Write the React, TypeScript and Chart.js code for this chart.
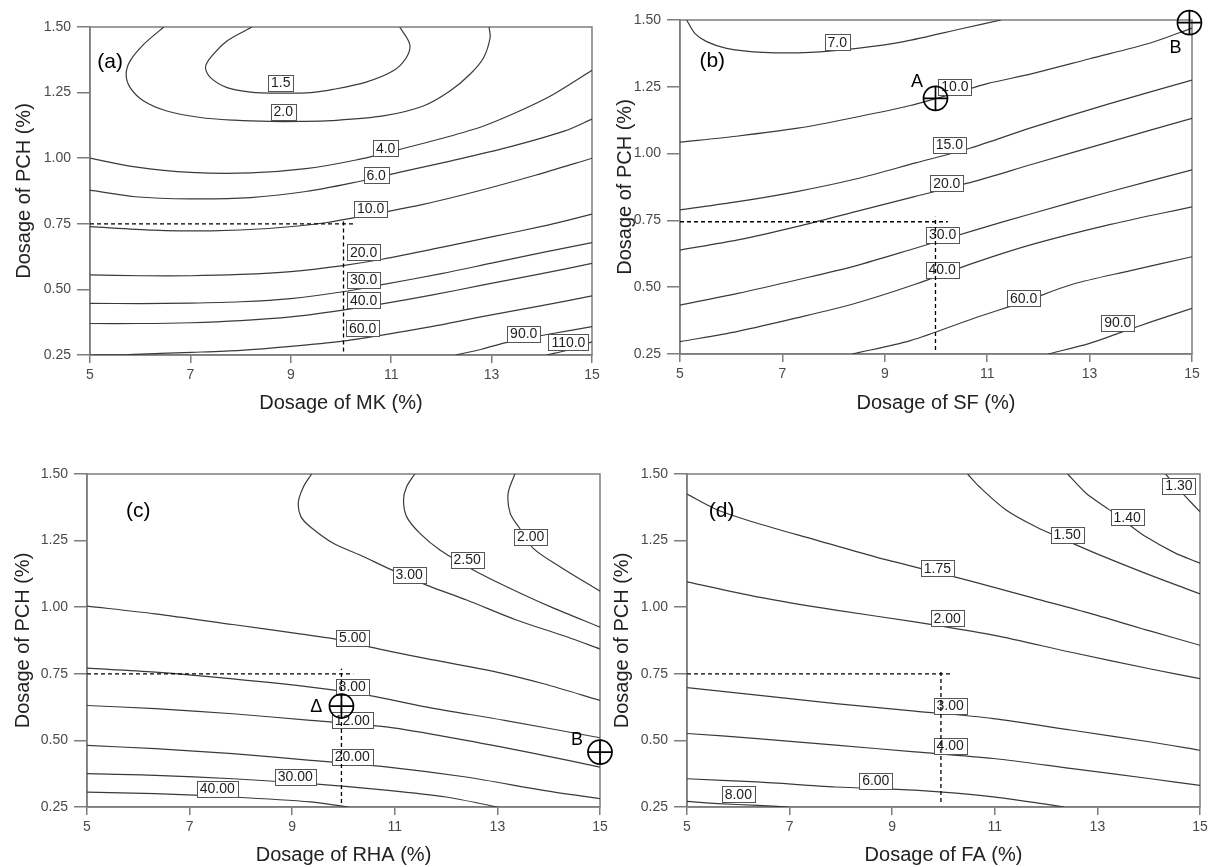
import React, { useEffect, useRef } from "react";
import { Chart, registerables } from "chart.js";

Chart.register(...registerables);

type Pt = [number, number];
type Lbl = [string, number, number];

const FONT = "'Liberation Sans', Arial, Helvetica, sans-serif";

// ---------- shared axes ----------
const X_TICKS = [5, 7, 9, 11, 13, 15];
const Y_TICKS = [0.25, 0.5, 0.75, 1.0, 1.25, 1.5];
const Y_TITLE = "Dosage of PCH (%)";

// ---------- Panel (a): MK ----------
const A_1_5: Pt[] = [[8.23, 1.5], [7.73, 1.447], [7.4, 1.383], [7.3, 1.345], [7.4, 1.307], [7.73, 1.269], [8.2, 1.252], [8.8, 1.248], [9.4, 1.25], [9.84, 1.262], [10.5, 1.29], [11.04, 1.333], [11.3, 1.383], [11.37, 1.434], [11.17, 1.5]];
const A_2_0: Pt[] = [[6.47, 1.5], [6.07, 1.434], [5.8, 1.371], [5.72, 1.32], [5.8, 1.269], [6.07, 1.218], [6.53, 1.18], [7.2, 1.155], [7.87, 1.145], [8.6, 1.14], [9.2, 1.14], [9.8, 1.143], [10.84, 1.161], [11.64, 1.199], [12.17, 1.256], [12.57, 1.32], [12.84, 1.383], [12.97, 1.459], [12.95, 1.5]];
const A_4_0: Pt[] = [[5, 1.0], [5.9, 0.967], [7.0, 0.946], [8.2, 0.944], [9.3, 0.96], [10.3, 0.993], [11.2, 1.035], [12.0, 1.075], [12.8, 1.12], [13.5, 1.175], [14.2, 1.24], [15, 1.335]];
const A_6_0: Pt[] = [[5, 0.878], [5.9, 0.853], [7.0, 0.845], [8.2, 0.85], [9.3, 0.873], [10.2, 0.905], [11.2, 0.948], [12.2, 0.99], [13.3, 1.04], [14.46, 1.104], [15, 1.149]];
const A_10_0: Pt[] = [[5, 0.739], [6.27, 0.726], [7.41, 0.723], [8.55, 0.732], [9.69, 0.754], [10.59, 0.785], [11.59, 0.822], [12.73, 0.875], [13.87, 0.935], [15, 1.0]];
const A_20_0: Pt[] = [[5, 0.555], [6, 0.552], [7, 0.552], [8, 0.557], [9, 0.568], [10, 0.59], [10.82, 0.615], [12, 0.66], [13, 0.7], [14, 0.74], [14.53, 0.764], [15, 0.787]];
const A_30_0: Pt[] = [[5, 0.447], [6, 0.446], [7, 0.448], [8, 0.453], [9, 0.465], [10, 0.49], [10.82, 0.518], [12, 0.56], [13, 0.6], [14, 0.64], [15, 0.678]];
const A_40_0: Pt[] = [[5, 0.37], [6, 0.37], [7, 0.373], [8, 0.381], [9, 0.395], [10, 0.42], [10.82, 0.445], [11.8, 0.478], [12.81, 0.516], [14, 0.56], [15, 0.599]];
const A_60_0: Pt[] = [[5, 0.25], [5.7, 0.251], [6.4, 0.256], [7.03, 0.26], [8, 0.268], [9, 0.283], [10, 0.302], [10.82, 0.326], [11.8, 0.358], [12.81, 0.396], [14, 0.438], [15, 0.475]];
const A_90_0: Pt[] = [[12.28, 0.25], [12.8, 0.272], [13.34, 0.3], [14.1, 0.328], [15, 0.358]];
const A_110_0: Pt[] = [[14.1, 0.25], [14.55, 0.27], [15, 0.3]];
const A_LABELS: Lbl[] = [["1.5", 8.8, 1.287], ["2.0", 8.85, 1.176], ["4.0", 10.89, 1.037], ["6.0", 10.7, 0.935], ["10.0", 10.59, 0.808], ["20.0", 10.45, 0.641], ["30.0", 10.45, 0.536], ["40.0", 10.45, 0.459], ["60.0", 10.43, 0.352], ["90.0", 13.64, 0.331], ["110.0", 14.53, 0.298]];
const A_GUIDE_H: Pt[] = [[5, 0.75], [10.26, 0.75]];
const A_GUIDE_V: Pt[] = [[10.05, 0.263], [10.05, 0.764]];
const A_MARKERS: Pt[] = [];
const A_MARKER_TEXT: Lbl[] = [];
const A_TAG: Lbl = ["(a)", 5.4, 1.365];

// ---------- Panel (b): SF ----------
const B_7_0: Pt[] = [[5.13, 1.5], [5.29, 1.45], [5.52, 1.419], [5.91, 1.394], [6.63, 1.379], [7.54, 1.379], [8.46, 1.394], [9.37, 1.419], [10.54, 1.469], [11.27, 1.5]];
const B_10_0: Pt[] = [[5, 1.043], [6.1, 1.065], [7.3, 1.095], [8.4, 1.135], [9.5, 1.18], [10.4, 1.228], [11.0, 1.262], [11.9, 1.3], [13.0, 1.355], [14.2, 1.415], [15, 1.47]];
const B_15_0: Pt[] = [[5, 0.789], [6.13, 0.82], [7.28, 0.858], [8.43, 0.905], [9.6, 0.965], [10.66, 1.02], [11.88, 1.098], [13.41, 1.188], [15, 1.275]];
const B_20_0: Pt[] = [[5, 0.639], [6.13, 0.677], [7.28, 0.727], [8.43, 0.783], [9.58, 0.839], [10.73, 0.895], [11.88, 0.96], [13.41, 1.045], [15, 1.132]];
const B_30_0: Pt[] = [[5, 0.433], [6.13, 0.477], [7.28, 0.527], [8.43, 0.58], [9.58, 0.645], [10.73, 0.712], [11.88, 0.776], [13.41, 0.858], [15, 0.939]];
const B_40_0: Pt[] = [[5, 0.296], [6.13, 0.335], [7.28, 0.385], [8.43, 0.44], [9.58, 0.51], [10.73, 0.59], [11.88, 0.66], [13.41, 0.735], [15, 0.801]];
const B_60_0: Pt[] = [[8.36, 0.25], [9.5, 0.3], [10.73, 0.383], [11.71, 0.445], [12.65, 0.51], [13.8, 0.562], [15, 0.614]];
const B_90_0: Pt[] = [[12.19, 0.25], [13.0, 0.29], [13.6, 0.33], [14.2, 0.37], [15, 0.421]];
const B_LABELS: Lbl[] = [["7.0", 8.07, 1.417], ["10.0", 10.37, 1.25], ["15.0", 10.26, 1.032], ["20.0", 10.21, 0.889], ["30.0", 10.13, 0.695], ["40.0", 10.12, 0.564], ["60.0", 11.71, 0.458], ["90.0", 13.55, 0.367]];
const B_GUIDE_H: Pt[] = [[5, 0.745], [10.23, 0.745]];
const B_GUIDE_V: Pt[] = [[9.99, 0.265], [9.99, 0.764]];
const B_MARKERS: Pt[] = [[9.99, 1.207], [14.95, 1.49]];
const B_MARKER_TEXT: Lbl[] = [["A", 9.63, 1.269], ["B", 14.68, 1.394]];
const B_TAG: Lbl = ["(b)", 5.63, 1.347];

// ---------- Panel (c): RHA ----------
const C_2_00: Pt[] = [[13.34, 1.5], [13.21, 1.428], [13.25, 1.352], [13.42, 1.3], [13.7, 1.221], [14.22, 1.152], [15, 1.06]];
const C_2_50: Pt[] = [[11.39, 1.5], [11.23, 1.452], [11.17, 1.402], [11.23, 1.34], [11.49, 1.277], [11.88, 1.215], [12.53, 1.14], [13.18, 1.077], [14.03, 1.002], [15, 0.925]];
const C_3_00: Pt[] = [[9.38, 1.5], [9.22, 1.452], [9.12, 1.394], [9.17, 1.34], [9.35, 1.302], [9.8, 1.24], [10.32, 1.196], [10.94, 1.14], [11.62, 1.083], [12.4, 1.027], [13.37, 0.952], [14.35, 0.889], [15, 0.843]];
const C_5_00: Pt[] = [[5, 1.004], [6.33, 0.975], [7.84, 0.935], [9.15, 0.9], [10.17, 0.87], [10.53, 0.85], [11.75, 0.802], [12.9, 0.76], [13.9, 0.7125], [15, 0.65]];
const C_8_00: Pt[] = [[5, 0.771], [6.33, 0.756], [7.84, 0.731], [9.36, 0.7], [10.49, 0.669], [11.63, 0.625], [13.14, 0.575], [15, 0.51]];
const C_12_00: Pt[] = [[5, 0.631], [6.33, 0.619], [7.84, 0.6], [9.36, 0.575], [10.87, 0.55], [12.39, 0.5], [13.9, 0.444], [15, 0.4]];
const C_20_00: Pt[] = [[5, 0.481], [6.33, 0.469], [7.84, 0.45], [9.36, 0.425], [10.87, 0.4], [12.39, 0.3625], [13.9, 0.3125], [15, 0.281]];
const C_30_00: Pt[] = [[5, 0.375], [6.33, 0.369], [7.84, 0.356], [9.36, 0.3375], [10.87, 0.3125], [12.0, 0.2875], [13.0, 0.25]];
const C_40_00: Pt[] = [[5, 0.306], [6.33, 0.3], [7.84, 0.2875], [9.36, 0.269], [10.1, 0.25]];
const C_LABELS: Lbl[] = [["2.00", 13.65, 1.265], ["2.50", 12.41, 1.177], ["3.00", 11.28, 1.121], ["5.00", 10.18, 0.885], ["8.00", 10.17, 0.7], ["12.00", 10.17, 0.575], ["20.00", 10.17, 0.4375], ["30.00", 9.06, 0.3625], ["40.00", 7.54, 0.319]];
const C_GUIDE_H: Pt[] = [[5, 0.75], [10.19, 0.75]];
const C_GUIDE_V: Pt[] = [[9.96, 0.265], [9.96, 0.769]];
const C_MARKERS: Pt[] = [[9.96, 0.629], [15, 0.456]];
const C_MARKER_TEXT: Lbl[] = [["Δ", 9.47, 0.625], ["B", 14.55, 0.5]];
const C_TAG: Lbl = ["(c)", 6.0, 1.36];

// ---------- Panel (d): FA ----------
const D_1_30: Pt[] = [[14.33, 1.5], [14.5, 1.46], [14.72, 1.415], [15, 1.358]];
const D_1_40: Pt[] = [[12.42, 1.5], [12.78, 1.428], [13.2, 1.37], [13.55, 1.32], [13.94, 1.265], [14.5, 1.205], [15, 1.165]];
const D_1_50: Pt[] = [[10.47, 1.5], [10.7, 1.452], [11.22, 1.365], [11.8, 1.302], [12.4, 1.25], [12.97, 1.202], [13.94, 1.127], [14.79, 1.065], [15, 1.05]];
const D_1_75: Pt[] = [[5, 1.425], [5.6, 1.365], [6.37, 1.315], [7.52, 1.252], [8.67, 1.189], [9.88, 1.13], [10.59, 1.095], [11.74, 1.035], [12.89, 0.975], [14.04, 0.91], [15, 0.857]];
const D_2_00: Pt[] = [[5, 1.095], [6.37, 1.039], [7.9, 0.989], [9.44, 0.945], [10.97, 0.895], [12.51, 0.83], [14.04, 0.768], [15, 0.732]];
const D_3_00: Pt[] = [[5, 0.698], [6.37, 0.67], [7.9, 0.638], [9.44, 0.61], [10.97, 0.582], [12.51, 0.538], [14.04, 0.494], [15, 0.463]];
const D_4_00: Pt[] = [[5, 0.526], [6.37, 0.507], [7.9, 0.482], [9.44, 0.457], [10.97, 0.432], [12.51, 0.394], [14.04, 0.356], [15, 0.331]];
const D_6_00: Pt[] = [[5, 0.356], [6.37, 0.344], [7.9, 0.325], [9.44, 0.313], [10.97, 0.288], [12.35, 0.25]];
const D_8_00: Pt[] = [[5, 0.271], [5.6, 0.263], [6.37, 0.256], [6.98, 0.25]];
const D_LABELS: Lbl[] = [["1.30", 14.59, 1.456], ["1.40", 13.58, 1.337], ["1.50", 12.41, 1.272], ["1.75", 9.88, 1.146], ["2.00", 10.07, 0.958], ["3.00", 10.13, 0.63], ["4.00", 10.13, 0.479], ["6.00", 8.68, 0.348], ["8.00", 6.0, 0.298]];
const D_GUIDE_H: Pt[] = [[5, 0.75], [10.16, 0.75]];
const D_GUIDE_V: Pt[] = [[9.95, 0.269], [9.95, 0.763]];
const D_MARKERS: Pt[] = [];
const D_MARKER_TEXT: Lbl[] = [];
const D_TAG: Lbl = ["(d)", 5.675, 1.362];

// ---------- panel layout ----------
type PanelCfg = {
  box: { x: number; y: number; w: number; h: number };
  area: { left: number; top: number; right: number; bottom: number };
  xTitle: string;
  xTitlePad: number;
  yTitlePad: number;
  contours: Pt[][];
  labels: Lbl[];
  guideH: Pt[];
  guideV: Pt[];
  markers: Pt[];
  markerText: Lbl[];
  tag: Lbl;
};

const PANELS: PanelCfg[] = [
  {
    box: { x: 0, y: 0, w: 610, h: 430 },
    area: { left: 90, top: 27, right: 592, bottom: 355 },
    xTitle: "Dosage of MK (%)", xTitlePad: 15, yTitlePad: 12,
    contours: [A_1_5, A_2_0, A_4_0, A_6_0, A_10_0, A_20_0, A_30_0, A_40_0, A_60_0, A_90_0, A_110_0],
    labels: A_LABELS, guideH: A_GUIDE_H, guideV: A_GUIDE_V, markers: A_MARKERS, markerText: A_MARKER_TEXT, tag: A_TAG,
  },
  {
    box: { x: 605, y: 0, w: 612, h: 430 },
    area: { left: 680, top: 20, right: 1192, bottom: 354 },
    xTitle: "Dosage of SF (%)", xTitlePad: 15, yTitlePad: 8,
    contours: [B_7_0, B_10_0, B_15_0, B_20_0, B_30_0, B_40_0, B_60_0, B_90_0],
    labels: B_LABELS, guideH: B_GUIDE_H, guideV: B_GUIDE_V, markers: B_MARKERS, markerText: B_MARKER_TEXT, tag: B_TAG,
  },
  {
    box: { x: 0, y: 440, w: 625, h: 427 },
    area: { left: 87, top: 474, right: 600, bottom: 807 },
    xTitle: "Dosage of RHA (%)", xTitlePad: 0, yTitlePad: 11,
    contours: [C_2_00, C_2_50, C_3_00, C_5_00, C_8_00, C_12_00, C_20_00, C_30_00, C_40_00],
    labels: C_LABELS, guideH: C_GUIDE_H, guideV: C_GUIDE_V, markers: C_MARKERS, markerText: C_MARKER_TEXT, tag: C_TAG,
  },
  {
    box: { x: 600, y: 440, w: 617, h: 427 },
    area: { left: 687, top: 474, right: 1200, bottom: 807 },
    xTitle: "Dosage of FA (%)", xTitlePad: 0, yTitlePad: 10,
    contours: [D_1_30, D_1_40, D_1_50, D_1_75, D_2_00, D_3_00, D_4_00, D_6_00, D_8_00],
    labels: D_LABELS, guideH: D_GUIDE_H, guideV: D_GUIDE_V, markers: D_MARKERS, markerText: D_MARKER_TEXT, tag: D_TAG,
  },
];

const toXY = (pts: Pt[]) => pts.map(([x, y]) => ({ x, y }));

function buildConfig(p: PanelCfg): any {
  const datasets: any[] = [];
  if (p.markers.length) {
    datasets.push({
      data: toXY(p.markers), showLine: false, pointStyle: "circle", pointRadius: 12,
      pointBorderColor: "#000", pointBackgroundColor: "rgba(0,0,0,0)", pointBorderWidth: 1.7, clip: false,
    });
    datasets.push({
      data: toXY(p.markers), showLine: false, pointStyle: "cross", pointRadius: 12,
      pointBorderColor: "#000", pointBackgroundColor: "rgba(0,0,0,0)", pointBorderWidth: 1.7, clip: false,
    });
  }
  [p.guideH, p.guideV].forEach((g) =>
    datasets.push({
      data: toXY(g), showLine: true, pointRadius: 0, borderColor: "#000", borderWidth: 1.3,
      borderDash: [4, 3], tension: 0, clip: false,
    })
  );
  const boxIndex = datasets.length - 1;
  p.contours.forEach((c) =>
    datasets.push({
      data: toXY(c), showLine: true, pointRadius: 0, borderColor: "#3a3a3a", borderWidth: 1.2,
      tension: 0.3, clip: 0,
    })
  );

  const canvasLeft = p.box.x;
  const canvasTop = p.box.y;
  const yWidth = p.area.left - canvasLeft;
  const xHeight = canvasTop + p.box.h - p.area.bottom;

  const overlay = {
    id: "overlay",
    beforeDatasetsDraw(chart: any) {
      const { ctx, chartArea: a } = chart;
      ctx.save();
      ctx.strokeStyle = "#7d7d7d";
      ctx.lineWidth = 1.5;
      ctx.strokeRect(a.left, a.top, a.right - a.left, a.bottom - a.top);
      ctx.restore();
    },
    beforeDatasetDraw(chart: any, args: any) {
      if (args.index !== boxIndex) return;
      const { ctx, scales } = chart;
      const xs = scales.x, ys = scales.y;
      ctx.save();
      ctx.font = `14px ${FONT}`;
      ctx.textAlign = "center";
      ctx.textBaseline = "middle";
      p.labels.forEach(([t, vx, vy]) => {
        const px = xs.getPixelForValue(vx);
        const py = ys.getPixelForValue(vy);
        const w = Math.round(ctx.measureText(t).width + 6);
        const h = 16;
        const l = Math.round(px - w / 2) + 0.5;
        const tp = Math.round(py - h / 2) + 0.5;
        ctx.fillStyle = "#fff";
        ctx.fillRect(l, tp, w, h);
        ctx.strokeStyle = "#555";
        ctx.lineWidth = 1;
        ctx.strokeRect(l, tp, w, h);
        ctx.fillStyle = "#1e1e1e";
        ctx.fillText(t, px, py + 0.5);
      });
      ctx.restore();
    },
    afterDatasetsDraw(chart: any) {
      const { ctx, scales } = chart;
      const xs = scales.x, ys = scales.y;
      ctx.save();
      ctx.textAlign = "center";
      ctx.textBaseline = "middle";
      ctx.fillStyle = "#000";
      ctx.font = `21px ${FONT}`;
      ctx.fillText(p.tag[0], xs.getPixelForValue(p.tag[1]), ys.getPixelForValue(p.tag[2]));
      ctx.font = `18px ${FONT}`;
      p.markerText.forEach(([t, vx, vy]) => {
        ctx.fillText(t, xs.getPixelForValue(vx), ys.getPixelForValue(vy));
      });
      ctx.restore();
    },
  };

  const common = (tickLen: number) => ({
    grid: { drawOnChartArea: false, drawTicks: true, tickLength: tickLen, color: "#7d7d7d", lineWidth: 1.5 },
    border: { display: true, color: "#7d7d7d", width: 1.5 },
  });

  return {
    type: "scatter",
    data: { datasets },
    plugins: [overlay],
    options: {
      animation: false,
      responsive: false,
      maintainAspectRatio: false,
      events: [],
      layout: { padding: { left: 0, bottom: 0, top: p.area.top - canvasTop, right: canvasLeft + p.box.w - p.area.right } },
      plugins: { legend: { display: false }, tooltip: { enabled: false } },
      scales: {
        x: {
          type: "linear", min: 5, max: 15,
          afterBuildTicks: (s: any) => { s.ticks = X_TICKS.map((v) => ({ value: v })); },
          afterFit: (s: any) => { s.height = xHeight; },
          ...common(8),
          ticks: { padding: 4, autoSkip: false, maxRotation: 0, color: "#4a4a4a", font: { size: 14, family: FONT }, callback: (v: any) => String(v) },
          title: { display: true, text: p.xTitle, color: "#222", font: { size: 20, family: FONT }, padding: { top: 0, bottom: p.xTitlePad } },
        },
        y: {
          type: "linear", min: 0.25, max: 1.5,
          afterBuildTicks: (s: any) => { s.ticks = Y_TICKS.map((v) => ({ value: v })); },
          afterFit: (s: any) => { s.width = yWidth; },
          ...common(13),
          ticks: { padding: 6, autoSkip: false, color: "#4a4a4a", font: { size: 14, family: FONT }, callback: (v: any) => Number(v).toFixed(2) },
          title: { display: true, text: Y_TITLE, color: "#222", font: { size: 20, family: FONT }, padding: { top: p.yTitlePad, bottom: 0 } },
        },
      },
    },
  };
}

function Panel({ cfg }: { cfg: PanelCfg }) {
  const ref = useRef<HTMLCanvasElement | null>(null);
  useEffect(() => {
    if (!ref.current) return;
    const chart = new Chart(ref.current, buildConfig(cfg));
    return () => chart.destroy();
  }, [cfg]);
  return (
    <canvas
      ref={ref}
      width={cfg.box.w}
      height={cfg.box.h}
      style={{ position: "absolute", left: cfg.box.x, top: cfg.box.y, width: cfg.box.w, height: cfg.box.h }}
    />
  );
}

export default function App() {
  return (
    <div style={{ position: "absolute", left: 0, top: 0, width: 1217, height: 867, background: "#fff", overflow: "hidden" }}>
      {PANELS.map((p, i) => (
        <Panel key={i} cfg={p} />
      ))}
    </div>
  );
}
